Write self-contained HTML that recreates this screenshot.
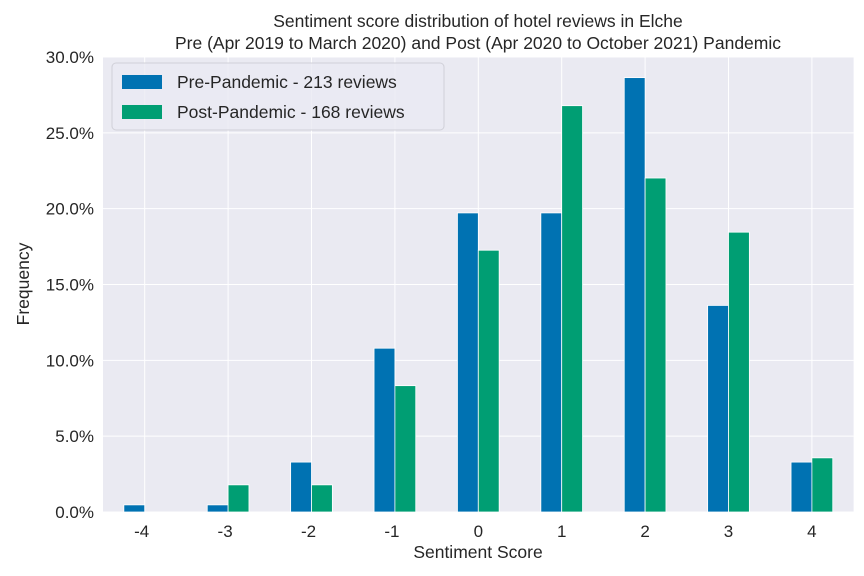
<!DOCTYPE html>
<html><head><meta charset="utf-8"><style>body{margin:0;background:#fff}svg{display:block}</style></head>
<body>
<svg id="chart" width="864" height="576" xmlns="http://www.w3.org/2000/svg" font-family="Liberation Sans, sans-serif" fill="#262626"></svg>
<script>
const categories=[-4,-3,-2,-1,0,1,2,3,4];
const preValues=[0.47,0.47,3.29,10.80,19.72,19.72,28.64,13.62,3.29];
const postValues=[0,1.79,1.79,8.33,17.26,26.79,22.02,18.45,3.57];
const yTicks=[0,5,10,15,20,25,30];
const svg=document.getElementById('chart');
const NS='http://www.w3.org/2000/svg';
const L=103,R=853.6,T=57,B=512;
const x=v=>L+(v+4.5)/9*(R-L);
const y=v=>B-v/30*(B-T);
const step=(R-L)/9;
function mk(tag,attrs,parent){const e=document.createElementNS(NS,tag);for(const k in attrs)e.setAttribute(k,attrs[k]);(parent||svg).appendChild(e);return e;}
let bg=mk('rect',{x:L,y:T,width:R-L,height:B-T,fill:'#eaeaf2'});


yTicks.forEach(t=>{
 let g=mk('line',{x1:L,x2:R,y1:y(t),y2:y(t),stroke:'#fff','stroke-width':1});
 
 
 let tx=mk('text',{x:L-9,y:y(t)+6,'text-anchor':'end','font-size':17});
 tx.textContent=t.toFixed(1)+'%';
 
 
});
categories.forEach((c,i)=>{
 let g=mk('line',{x1:x(c),x2:x(c),y1:T,y2:B,stroke:'#fff','stroke-width':1});
 
 
 let tx=mk('text',{x:x(c)-(c<0?3:0),y:537,'text-anchor':'middle','font-size':17});
 tx.textContent=String(c);
 
 
 let b1=mk('rect',{x:x(c)-step*0.25,y:y(preValues[i]),width:step*0.25,height:B-y(preValues[i]),fill:'#0072b2',stroke:'#fff','stroke-width':0.8});
 
 
 let b2=mk('rect',{x:x(c),y:y(postValues[i]),width:step*0.25,height:B-y(postValues[i]),fill:'#009e73',stroke:'#fff','stroke-width':0.8});
 
 
});
let t1=mk('text',{x:478,y:27,'text-anchor':'middle','font-size':17.5});
t1.textContent='Sentiment score distribution of hotel reviews in Elche';


let t2=mk('text',{x:478,y:49,'text-anchor':'middle','font-size':17.5});
t2.textContent='Pre (Apr 2019 to March 2020) and Post (Apr 2020 to October 2021) Pandemic';


let xt=mk('text',{x:478,y:558,'text-anchor':'middle','font-size':17.5});
xt.textContent='Sentiment Score';


let yt=mk('text',{x:29,y:284,'text-anchor':'middle','font-size':17.5,transform:'rotate(-90 29 284)'});
yt.textContent='Frequency';


let lg=mk('rect',{x:112,y:63,width:332,height:67,rx:4,fill:'#eaeaf2',stroke:'#d0d0d8','fill-opacity':0.8});


[['Pre-Pandemic - 213 reviews','#0072b2',81],['Post-Pandemic - 168 reviews','#009e73',111]].forEach(([lbl,col,yy])=>{
 let s=mk('rect',{x:122,y:yy-6,width:40,height:14,fill:col});
 
 
 let tx=mk('text',{x:177,y:yy+7,'font-size':17.5});
 tx.textContent=lbl;
 
 
});
</script>
</body></html>
